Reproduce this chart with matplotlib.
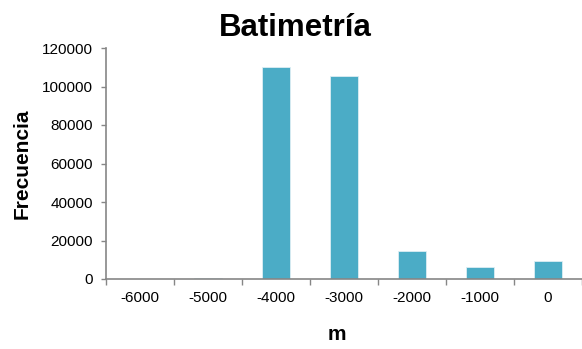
import matplotlib
matplotlib.use("Agg")
import matplotlib.pyplot as plt
import numpy as np

categories = ["-6000", "-5000", "-4000", "-3000", "-2000", "-1000", "0"]
frecuencia = [0, 500, 110300, 105700, 14800, 6100, 9500]
yticks = [0, 20000, 40000, 60000, 80000, 100000, 120000]

plt.rcParams['font.family'] = ['Liberation Sans', 'DejaVu Sans']

fig = plt.figure(figsize=(5.82, 3.49), dpi=100)
ax = fig.add_axes([106/582, 1-279/349, 476/582, 231/349])

x = np.arange(len(categories))
ax.bar(x, frecuencia, width=0.4, color='#4BACC6', edgecolor='#DDEEF3', linewidth=0.6, zorder=2)

ax.set_xlim(-0.5, len(categories) - 0.5)
ax.set_ylim(0, 120000)
ax.set_yticks(yticks)
ax.set_yticklabels([str(v) for v in yticks], fontsize=11)
ax.set_xticks(x)
ax.set_xticklabels(categories, fontsize=11)
ax.tick_params(axis='x', length=0, pad=9)
ax.set_xticks(np.arange(len(categories) + 1) - 0.5, minor=True)
ax.tick_params(axis='x', which='minor', length=4, color='#868686', width=1)
ax.tick_params(axis='y', length=3.6, color='#868686', width=1, pad=6)

for s in ['top', 'right']:
    ax.spines[s].set_visible(False)
for s in ['left', 'bottom']:
    ax.spines[s].set_color('#868686')
    ax.spines[s].set_linewidth(1.2)

fig.text(295/582, 1-36/349, "Batimetría", ha='center', va='baseline', fontsize=22.5, fontweight='bold')
fig.text(22/582, 1-164/349, "Frecuencia", ha='center', va='center', rotation=90, fontsize=15, fontweight='bold')
fig.text(337/582, 1-335/349, "m", ha='center', va='center', fontsize=15, fontweight='bold')

fig.savefig("out.png", dpi=100)
